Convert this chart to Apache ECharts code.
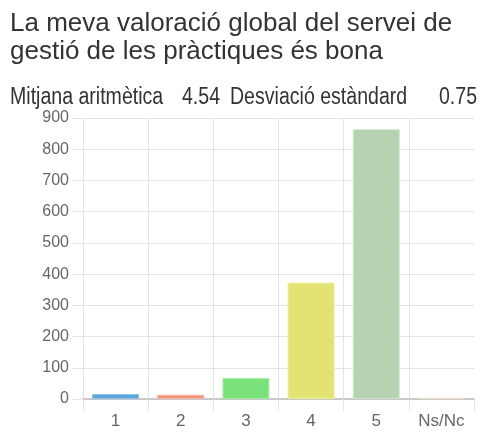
<!DOCTYPE html>
<html>
<head>
<meta charset="utf-8">
<script src="https://cdn.jsdelivr.net/npm/echarts@6/dist/echarts.min.js"></script>
<style>
  html, body { margin: 0; padding: 0; background: #fff; }
  #chart { width: 481px; height: 435px; }
</style>
</head>
<body>
<div id="chart"></div>
<script>
// Response counts per rating
const categories = ['1', '2', '3', '4', '5', 'Ns/Nc'];
const counts = [16, 14, 67, 373, 864, 2];
const barColors = ['#5da7dd', '#f0937a', '#7be27b', '#e3e374', '#b6d3b1', '#d9c8b6'];
const borderColors = ['#8ec3ea', '#f6b8a6', '#a6eda6', '#eeee9e', '#cfe3cc', '#e6dbd0'];

const titleLines = ['La meva valoració global del servei de', 'gestió de les pràctiques és bona'];
const statLabels = ['Mitjana aritmètica', 'Desviació estàndard'];
const statValues = ['4.54', '0.75'];

const FONT = '"Liberation Sans", Arial, sans-serif';
const chart = echarts.init(document.getElementById('chart'), null, { renderer: 'canvas' });

// Summary line: slightly condensed text in one row
const statFont = '23px ' + FONT;
const statTop = 86;
const statScale = 0.85;
function statText(str, x, align) {
  return {
    type: 'text', x: x, y: statTop, scaleX: statScale, originX: 0, z: 10,
    style: { text: str, font: statFont, fill: '#333', textAlign: align || 'left', textVerticalAlign: 'top' }
  };
}

chart.setOption({
  animation: false,
  textStyle: { fontFamily: FONT },
  title: {
    text: titleLines.join('\n'),
    left: 10,
    top: 10,
    padding: 0,
    textStyle: { fontFamily: FONT, fontSize: 26, fontWeight: 'normal', color: '#333', lineHeight: 28 }
  },
  graphic: [
    statText(statLabels[0], 10),
    statText(statValues[0], 182),
    statText(statLabels[1], 230),
    statText(statValues[1], 477, 'right')
  ],
  grid: { left: 83, right: 7, top: 118, bottom: 36, containLabel: false },
  xAxis: {
    type: 'category',
    data: categories,
    axisLine: { show: true, lineStyle: { color: '#bdbdbd', width: 1.5 } },
    axisTick: { show: true, length: 12, lineStyle: { color: '#e3e3e3' } },
    axisLabel: { color: '#666', fontSize: 17, margin: 14, fontFamily: FONT },
    splitLine: { show: true, showMaxLine: false, lineStyle: { color: '#e3e3e3' } }
  },
  yAxis: {
    type: 'value',
    min: 0, max: 900, interval: 100,
    axisLine: { show: false },
    axisTick: { show: true, length: 11, lineStyle: { color: '#e3e3e3' } },
    axisLabel: { color: '#666', fontSize: 16, margin: 14, fontFamily: FONT },
    splitLine: { show: true, lineStyle: { color: '#e3e3e3' } }
  },
  series: [{
    type: 'bar',
    barCategoryGap: '28%',
    data: counts.map((v, i) => ({
      value: v,
      itemStyle: { color: barColors[i], borderColor: borderColors[i], borderWidth: 1 }
    }))
  }]
});
</script>
</body>
</html>
